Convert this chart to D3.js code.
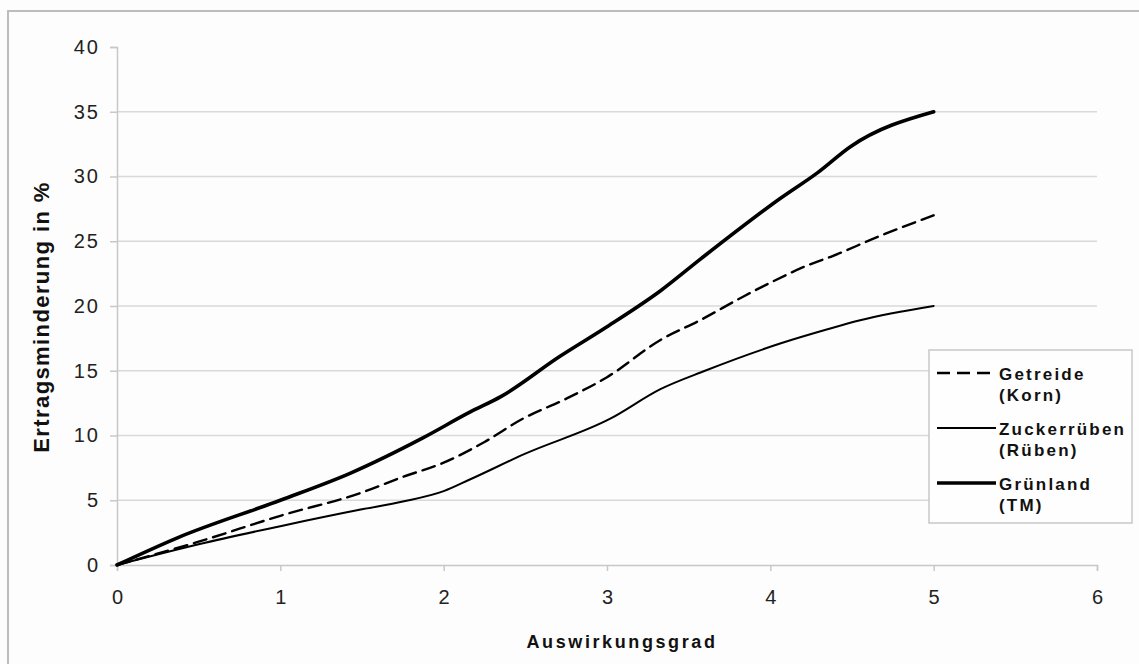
<!DOCTYPE html>
<html><head><meta charset="utf-8">
<script src="https://cdn.jsdelivr.net/npm/d3@7"></script>
<style>
html,body{margin:0;padding:0;background:#fdfdfd;}
svg{display:block;font-family:"Liberation Sans",Arial,sans-serif;}
</style></head>
<body>
<svg id="chart" width="1139" height="664"></svg>
<script>
// ---- data ----
const xTicks = [0,1,2,3,4,5,6];
const yTicks = [0,5,10,15,20,25,30,35,40];
const seriesNames = ["Getreide (Korn)","Zuckerrüben (Rüben)","Grünland (TM)"];
const legendLine1 = ["Getreide","Zuckerrüben","Grünland"];
const legendLine2 = ["(Korn)","(Rüben)","(TM)"];
const getreideX = [0,0.5,1,1.5,1.75,2.0,2.25,2.47,2.76,3.0,3.33,3.57,3.83,4.0,4.26,4.37,4.65,5.0];
const getreideY = [0,1.8,3.8,5.6,6.8,7.9,9.5,11.2,12.9,14.5,17.4,18.9,20.7,21.8,23.3,23.8,25.3,27.0];
const rubenX = [0,0.5,1,1.5,1.75,2.0,2.16,2.5,3.02,3.33,3.6,4.06,4.35,4.55,5.0];
const rubenY = [0,1.6,3.0,4.3,4.9,5.7,6.6,8.6,11.3,13.6,15.0,17.1,18.2,18.9,20.0];
const grunX = [0,0.37,1.0,1.43,1.87,2.16,2.35,2.71,3.0,3.33,3.57,4.06,4.29,4.49,5.0];
const grunY = [0,2.1,5.0,7.1,9.8,11.8,13.0,16.1,18.4,21.2,23.6,28.3,30.3,32.3,35.0];

const svg = d3.select("#chart");
const x = d3.scaleLinear().domain([0,6]).range([117,1097]);
const y = d3.scaleLinear().domain([0,40]).range([565,47]);

// outer border
svg.append("rect").attr("x",8).attr("y",11).attr("width",1150).attr("height",680)
  .attr("fill","#fdfdfd").attr("stroke","#bdbdbd").attr("stroke-width",2);

// gridlines
svg.append("g").selectAll("line").data(yTicks.filter(d=>d>0 && d<40)).join("line")
  .attr("x1",x(0)).attr("x2",x(6)).attr("y1",d=>y(d)).attr("y2",d=>y(d))
  .attr("stroke","#d9d9d9").attr("stroke-width",1.5);

// y axis
const yAxis = svg.append("g").attr("transform",`translate(${x(0)},0)`)
  .call(d3.axisLeft(y).tickValues(yTicks).tickSize(7).tickPadding(10));
yAxis.select(".domain").attr("stroke","#c8c8c8").attr("stroke-width",1.5);
yAxis.selectAll(".tick line").attr("stroke","#c8c8c8").attr("stroke-width",1.5);
yAxis.selectAll("text").attr("font-size",20).attr("letter-spacing",2)
  .attr("fill","#222").attr("font-family","Liberation Sans, Arial, sans-serif");

// x axis
const xAxis = svg.append("g").attr("transform",`translate(0,${y(0)})`)
  .call(d3.axisBottom(x).tickValues(xTicks).tickSize(6).tickPadding(19).tickFormat(d3.format("d")));
xAxis.select(".domain").attr("stroke","#c8c8c8").attr("stroke-width",1.5);
xAxis.selectAll(".tick line").attr("stroke","#c8c8c8").attr("stroke-width",1.5);
xAxis.selectAll("text").attr("font-size",20).attr("fill","#222")
  .attr("font-family","Liberation Sans, Arial, sans-serif");

// axis titles
svg.append("text").attr("x",622).attr("y",648).attr("text-anchor","middle")
  .attr("font-size",18).attr("font-weight","bold").attr("letter-spacing",2.6)
  .attr("fill","#111").text("Auswirkungsgrad");
svg.append("text").attr("transform","translate(49,317) rotate(-90)").attr("text-anchor","middle")
  .attr("font-size",22).attr("font-weight","bold").attr("letter-spacing",1.4)
  .attr("fill","#111").text("Ertragsminderung in %");

// lines
const line = d3.line().x(d=>x(d[0])).y(d=>y(d[1])).curve(d3.curveMonotoneX);
const styles = [
  {w:2.4, dash:"13,7"},
  {w:2.0, dash:null},
  {w:3.6, dash:null}
];
const data = [
  d3.zip(getreideX,getreideY),
  d3.zip(rubenX,rubenY),
  d3.zip(grunX,grunY)
];
svg.append("g").selectAll("path").data(data).join("path")
  .attr("d",line).attr("fill","none").attr("stroke","#000")
  .attr("stroke-width",(d,i)=>styles[i].w)
  .attr("stroke-dasharray",(d,i)=>styles[i].dash)
  .attr("stroke-linejoin","round").attr("stroke-linecap","round");

// legend
const lg = svg.append("g");
lg.append("rect").attr("x",929).attr("y",350).attr("width",203).attr("height",173)
  .attr("fill","#fefefe").attr("stroke","#c8c8c8").attr("stroke-width",1.5);
seriesNames.forEach((name,i)=>{
  const ly = 373 + i*55;
  lg.append("line").attr("x1",937).attr("x2",996).attr("y1",ly).attr("y2",ly)
    .attr("stroke","#000").attr("stroke-width",styles[i].w)
    .attr("stroke-dasharray",styles[i].dash);
  lg.append("text").attr("x",999).attr("y",ly+7).attr("font-size",17).attr("font-weight","bold")
    .attr("letter-spacing",2.2).attr("fill","#111").text(legendLine1[i]);
  lg.append("text").attr("x",999).attr("y",ly+28).attr("font-size",17).attr("font-weight","bold")
    .attr("letter-spacing",2.2).attr("fill","#111").text(legendLine2[i]);
});
</script>
</body></html>
